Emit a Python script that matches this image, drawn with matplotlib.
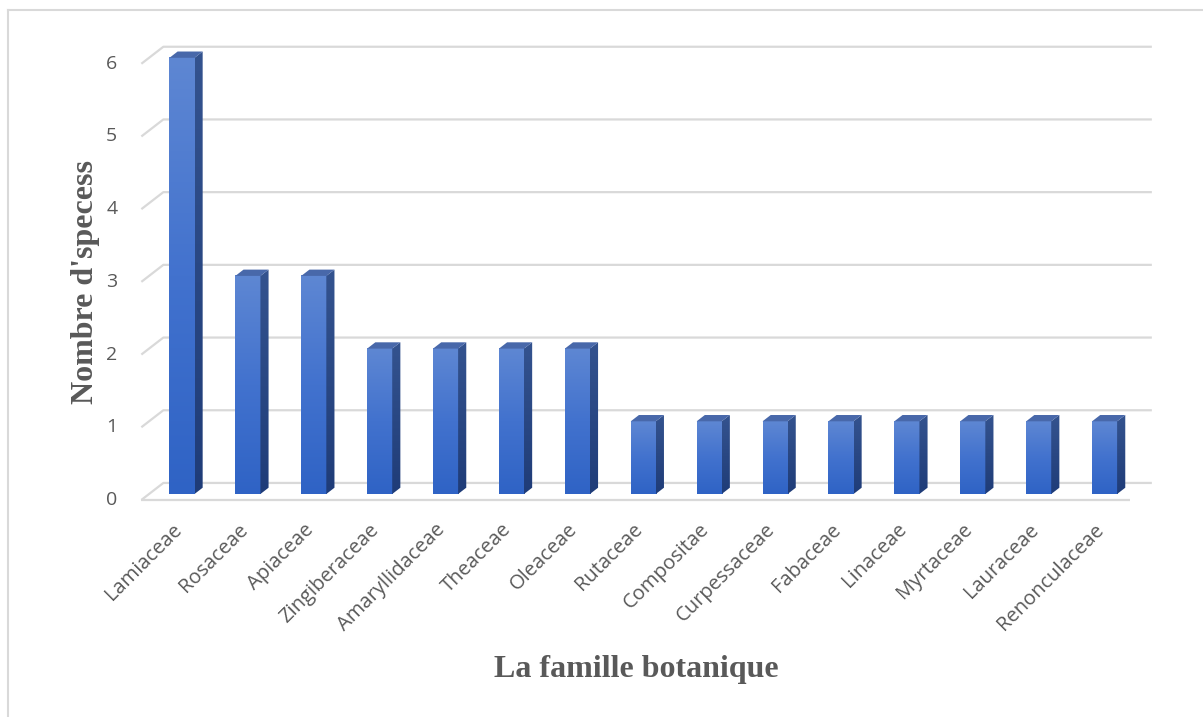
import numpy as np
import matplotlib
matplotlib.use("Agg")
import matplotlib.pyplot as plt
from matplotlib.patches import Polygon
from matplotlib.colors import LinearSegmentedColormap

# ---- data -------------------------------------------------------------
families = ["Lamiaceae", "Rosaceae", "Apiaceae", "Zingiberaceae", "Amaryllidaceae",
            "Theaceae", "Oleaceae", "Rutaceae", "Compositae", "Curpessaceae",
            "Fabaceae", "Linaceae", "Myrtaceae", "Lauraceae", "Renonculaceae"]
counts = [6, 3, 3, 2, 2, 2, 2, 1, 1, 1, 1, 1, 1, 1, 1]
y_ticks = [0, 1, 2, 3, 4, 5, 6]
y_label = "Nombre d'specess"
x_label = "La famille botanique"

# ---- pseudo-3D geometry (in data units) --------------------------------
W, H, DPI = 1203, 717, 100
PX_X, PX_Y = 65.9, 72.7           # pixels per category / per unit value
DX, DY = 22 / PX_X, 17 / PX_Y     # shift of one full wall depth
BAR_D0, BAR_D1 = 0.35, 0.72        # bar depth range inside the wall
BAR_W = 0.38
N = len(families)
X0, X1 = -0.5, N - 0.5

def proj(x, v, d):
    """Oblique projection: depth d measured from the front (0) to back wall (1)."""
    return x + DX * (d - BAR_D0), v + DY * (d - BAR_D0)

fig = plt.figure(figsize=(W / DPI, H / DPI), dpi=DPI)
ax = fig.add_axes([0, 0, 1, 1])
ax.set_xlim(-182 / PX_X, (W - 182) / PX_X)
ax.set_ylim((494 - H) / PX_Y, 494 / PX_Y)
ax.axis("off")

grid_c = "#d9d9d9"
text_c = "#595959"

# back-wall gridlines with their left-side returns
for v in y_ticks:
    fx, fy = proj(X0, v, 0)
    bx, by = proj(X0, v, 1)
    ex, ey = proj(X1, v, 1)
    ax.plot([fx, bx, ex], [fy, by, ey], color=grid_c, lw=1.6,
            solid_capstyle="butt", zorder=1)
    ax.text(fx - 24 / PX_X, fy, str(v), ha="right", va="center",
            fontsize=14, color=text_c, family="Open Sans")

# front edge of the floor
fx, fy = proj(X0, 0, 0)
ex, ey = proj(X1, 0, 0)
ax.plot([fx, ex], [fy, ey], color=grid_c, lw=1.6, solid_capstyle="butt", zorder=5)

front_cmap = LinearSegmentedColormap.from_list("front", ["#2f63c5", "#4272ce", "#5e87d3"])
side_cmap = LinearSegmentedColormap.from_list("side", ["#1f3c78", "#34538f"])
grad = np.linspace(0, 1, 256).reshape(-1, 1)

for i, v in enumerate(counts):
    xl, xr = i - BAR_W / 2, i + BAR_W / 2
    # front face
    ax.imshow(grad, extent=[xl, xr, 0, v], origin="lower", cmap=front_cmap,
              aspect="auto", zorder=3, interpolation="bilinear")
    # side face
    side = [proj(xr, 0, BAR_D0), proj(xr, v, BAR_D0),
            proj(xr, v, BAR_D1), proj(xr, 0, BAR_D1)]
    sp = Polygon(side, closed=True, facecolor="none", edgecolor="none")
    ax.add_patch(sp)
    sx = [p[0] for p in side]
    sy = [p[1] for p in side]
    im = ax.imshow(grad, extent=[min(sx), max(sx), min(sy), max(sy)], origin="lower",
                   cmap=side_cmap, aspect="auto", zorder=3, interpolation="bilinear")
    im.set_clip_path(sp)
    # top face
    top = [proj(xl, v, BAR_D0), proj(xr, v, BAR_D0),
           proj(xr, v, BAR_D1), proj(xl, v, BAR_D1)]
    ax.add_patch(Polygon(top, closed=True, facecolor="#4868aa",
                         edgecolor="none", zorder=4))

# category labels
for i, name in enumerate(families):
    ax.text(i - 0.05, -0.45, name, rotation=45, rotation_mode="anchor", ha="right",
            va="center", fontsize=14.5, color=text_c, family="Open Sans")

# axis titles
fig.text(85 / W, 1 - 282 / H, y_label, rotation=90, ha="center", va="center",
         fontsize=23, fontweight="bold", color=text_c, family="Liberation Serif")
fig.text(636 / W, 1 - 670 / H, x_label, ha="center", va="center",
         fontsize=23, fontweight="bold", color=text_c, family="Liberation Serif")

# chart-area frame
fig.add_artist(plt.Line2D([8 / W, 8 / W], [0, 1 - 10 / H], transform=fig.transFigure,
                          color=grid_c, lw=1.5))
fig.add_artist(plt.Line2D([8 / W, 1], [1 - 10 / H, 1 - 10 / H], transform=fig.transFigure,
                          color=grid_c, lw=1.5))

fig.savefig("out.png", dpi=DPI)
